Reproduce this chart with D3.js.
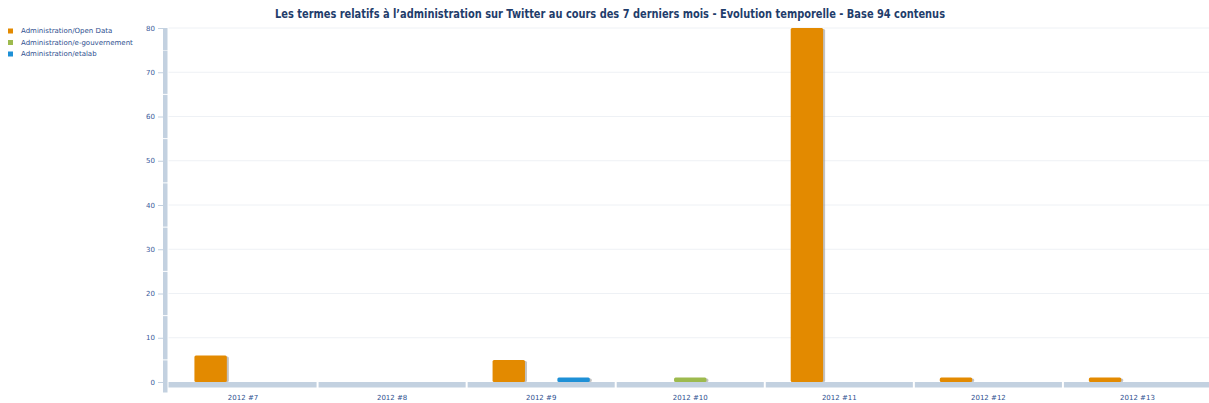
<!DOCTYPE html>
<html>
<head>
<meta charset="utf-8">
<script src="https://cdn.jsdelivr.net/npm/d3@7"></script>
<style>
  body { margin: 0; background: #fff; }
  text { font-family: "DejaVu Sans", Verdana, sans-serif; }
</style>
</head>
<body>
<svg id="chart"></svg>
<script>
const categories = ["2012 #7", "2012 #8", "2012 #9", "2012 #10", "2012 #11", "2012 #12", "2012 #13"];
const seriesNames = ["Administration/Open Data", "Administration/e-gouvernement", "Administration/etalab"];
const openData = [6, 0, 5, 0, 80, 1, 1];
const eGouv = [0, 0, 0, 1, 0, 0, 0];
const etalab = [0, 0, 1, 0, 0, 0, 0];
const yTicks = [0, 10, 20, 30, 40, 50, 60, 70, 80];
const colors = ["#e38a00", "#9dba4e", "#1e90d6"];

const W = 1209, H = 403;
const margin = { top: 28, right: -3, bottom: 21, left: 168.5 },
  width = W - margin.left - margin.right,
  height = H - margin.top - margin.bottom;

const svg = d3.select("#chart").attr("width", W).attr("height", H);

svg.append("text")
  .attr("x", 610)
  .attr("y", 18)
  .attr("text-anchor", "middle")
  .attr("textLength", 670)
  .attr("lengthAdjust", "spacingAndGlyphs")
  .style("font-size", "12px")
  .style("font-weight", "bold")
  .style("fill", "#1f3d6b")
  .text("Les termes relatifs à l’administration sur Twitter au cours des 7 derniers mois - Evolution temporelle - Base 94 contenus");

const g = svg.append("g").attr("transform", `translate(${margin.left},${margin.top})`);

const x0 = d3.scaleBand().domain(categories).range([0, width]);
const x1 = d3.scaleBand().domain(seriesNames).range([0, x0.bandwidth()]).paddingInner(0).paddingOuter(0.8);
const y = d3.scaleLinear().domain([0, 80]).range([height, 0]);

// grid
g.selectAll(".grid").data(yTicks.filter(d => d > 0)).enter()
  .append("line")
  .attr("x1", 0).attr("x2", width)
  .attr("y1", d => y(d)).attr("y2", d => y(d))
  .attr("stroke", "#eef1f5").attr("stroke-width", 1);

// y axis bar, segments between midpoints
const half = (y(0) - y(10)) / 2;
g.selectAll(".yseg").data(yTicks).enter()
  .append("rect")
  .attr("x", -5.5).attr("width", 4.5)
  .attr("y", d => Math.max(y(d) - half + 0.5, 0))
  .attr("height", d => (d === 80 ? half : d === 0 ? half + 10 : 2 * half - 1))
  .attr("fill", "#c3d1e0");

// y tick marks + labels
const yAxis = g.append("g")
  .attr("transform", "translate(-5.5,0)")
  .call(d3.axisLeft(y).tickValues(yTicks).tickSize(5).tickPadding(3));
yAxis.select(".domain").remove();
yAxis.selectAll("line").attr("stroke", "#c3d1e0");
yAxis.selectAll("text").style("font-size", "7px").style("fill", "#3a5a9a").attr("dy", "0.3em");

// x axis bar segments
g.selectAll(".xseg").data(categories).enter()
  .append("rect")
  .attr("x", d => x0(d) + (d === categories[0] ? 0 : 1))
  .attr("width", d => x0.bandwidth() - (d === categories[0] ? 1 : 2))
  .attr("y", height)
  .attr("height", 5.5)
  .attr("fill", "#c3d1e0");

g.selectAll(".xlab").data(categories).enter()
  .append("text")
  .attr("x", d => x0(d) + x0.bandwidth() / 2)
  .attr("y", height + 18)
  .attr("text-anchor", "middle")
  .style("font-size", "7px")
  .style("fill", "#2f4f8f")
  .text(d => d);

// bars
const allSeries = [openData, eGouv, etalab];
const barData = [];
categories.forEach((c, i) => {
  seriesNames.forEach((s, j) => {
    if (allSeries[j][i] > 0) barData.push({ cat: c, series: s, value: allSeries[j][i], color: colors[j] });
  });
});

const bars = g.selectAll(".bar").data(barData).enter().append("g");
bars.append("rect")
  .attr("x", d => x0(d.cat) + x1(d.series) + 2)
  .attr("y", d => y(d.value) + 1)
  .attr("width", x1.bandwidth())
  .attr("height", d => height - y(d.value) - 1)
  .attr("rx", 1.5)
  .attr("fill", "#9a9a9a")
  .attr("opacity", 0.6);
bars.append("rect")
  .attr("x", d => x0(d.cat) + x1(d.series))
  .attr("y", d => y(d.value))
  .attr("width", x1.bandwidth())
  .attr("height", d => height - y(d.value))
  .attr("rx", 1.5)
  .attr("fill", d => d.color);

// legend
const legend = svg.selectAll(".legend").data(seriesNames).enter()
  .append("g")
  .attr("transform", (d, i) => `translate(8,${31 + i * 11.5})`);
legend.append("rect")
  .attr("x", 0).attr("y", -2.5)
  .attr("width", 5).attr("height", 5)
  .attr("fill", (d, i) => colors[i]);
legend.append("text")
  .attr("x", 13)
  .attr("y", 0)
  .attr("dy", "0.35em")
  .style("font-size", "7px")
  .style("fill", "#2f4f8f")
  .text(d => d);
</script>
</body>
</html>
